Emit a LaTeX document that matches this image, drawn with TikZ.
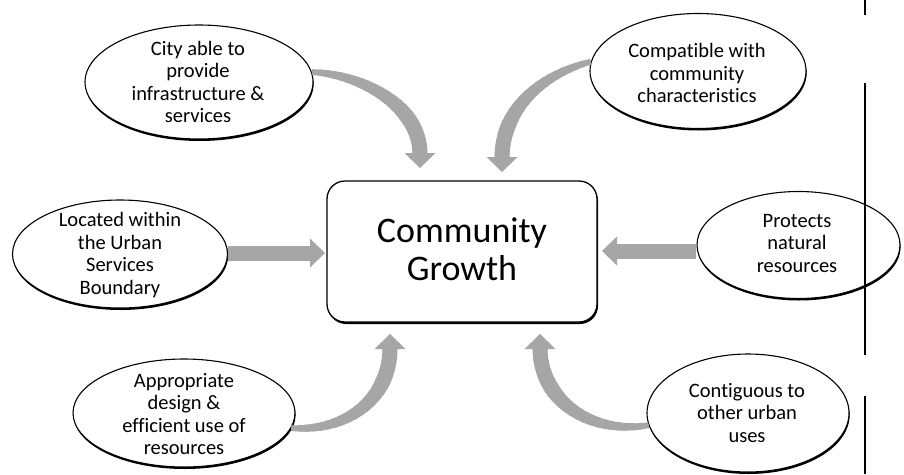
\documentclass[tikz,border=0pt]{standalone}
\usepackage{fontspec}
\setmainfont{Carlito}[Ligatures=CommonOff]
\usetikzlibrary{arrows.meta,shapes.geometric,shadows}
\definecolor{agray}{HTML}{A6A6A6}
\tikzset{
  ell/.style={ellipse, draw=black, line width=1.1pt, fill=white, inner sep=0pt,
    drop shadow={shadow xshift=0.6pt, shadow yshift=-2pt, opacity=1, fill=black}},
  etext/.style={align=center, font=\fontsize{20.5}{22.5}\selectfont, inner sep=0pt},
  mainbox/.style={draw=black, line width=1.3pt, rounded corners=18pt, fill=white,
    minimum width=270pt, minimum height=141pt,
    drop shadow={shadow xshift=1pt, shadow yshift=-2pt, opacity=1, fill=black}},
  ghead/.style={draw=agray, line width=1pt, -{Triangle[width=31pt,length=15pt,line width=0pt]}},
  gshaft/.style={draw=agray, shorten >=14pt},
  sarrow/.style={draw=agray, line width=15pt, -{Triangle[width=29pt,length=15pt,line width=0pt]}},
  vbar/.style={line width=2pt, black}
}
\begin{document}
\begin{tikzpicture}[x=1pt,y=-1pt]
\useasboundingbox[fill=white] (0,0) rectangle (904,474);

% central node
\node[mainbox] (cg) at (462,251.5) {};
\node[align=center, font=\fontsize{36}{37.5}\selectfont, inner sep=0pt] (cgt) at (462,249) {Community\\Growth};

% ellipses
\node[ell, minimum width=228pt, minimum height=114pt] (e1) at (199,82) {};
\node[etext] (e1t) at (198,82) {City able to\\provide\\infrastructure \&\\services};

\node[ell, minimum width=216pt, minimum height=115pt] (e2) at (698,71) {};
\node[etext] (e2t) at (697,73) {Compatible with\\community\\characteristics};

\node[ell, minimum width=215pt, minimum height=108pt] (e3) at (120,254) {};
\node[etext] (e3t) at (120,255) {Located within\\the Urban\\Services\\Boundary};

\node[ell, minimum width=203pt, minimum height=107pt] (e4) at (798.5,245) {};
\node[etext] (e4t) at (797,243) {Protects\\natural\\resources};

\node[ell, minimum width=222pt, minimum height=108pt] (e5) at (184,413) {};
\node[etext] (e5t) at (184,414) {Appropriate\\design \&\\efficient use of\\resources};

\node[ell, minimum width=202pt, minimum height=118pt] (e6) at (748,413) {};
\node[etext] (e6t) at (747,413) {Contiguous to\\other urban\\uses};

% arrow tips near the central node
\coordinate (t1) at (420,168);
\coordinate (t2) at (502,172);
\coordinate (t3) at (325,253);
\coordinate (t4) at (602,251);
\coordinate (t5) at (390,334);
\coordinate (t6) at (540,334);

% curved, tapering arrows
\foreach \i in {0,...,15}{
  \pgfmathsetmacro{\w}{6+0.6*\i}
  \pgfmathsetmacro{\o}{7*\i}
  \draw[gshaft, line width=\w pt, dash pattern=on 0pt off \o pt on 500pt]
    (e1.5) .. controls (360,74) and (420,105) .. (t1);
  \draw[gshaft, line width=\w pt, dash pattern=on 0pt off \o pt on 500pt]
    (e2.175) .. controls (540,75) and (502,110) .. (t2);
  \draw[gshaft, line width=\w pt, dash pattern=on 0pt off \o pt on 500pt]
    (e5.-8) .. controls (345,432) and (390,400) .. (t5);
  \draw[gshaft, line width=\w pt, dash pattern=on 0pt off \o pt on 500pt]
    (e6.187) .. controls (590,435) and (540,400) .. (t6);
}
\draw[ghead] (e1.5) .. controls (360,74) and (420,105) .. (t1);
\draw[ghead] (e2.175) .. controls (540,75) and (502,110) .. (t2);
\draw[ghead] (e5.-8) .. controls (345,432) and (390,400) .. (t5);
\draw[ghead] (e6.187) .. controls (590,435) and (540,400) .. (t6);

% straight arrows
\draw[sarrow] (e3.east |- t3) -- (t3);
\draw[sarrow] (e4.west |- t4) -- (t4);

% vertical bars at the right
\draw[vbar] (865,0) -- (865,15);
\draw[vbar] (865,83) -- (865,355);
\draw[vbar] (865,396) -- (865,474);
\end{tikzpicture}
\end{document}
